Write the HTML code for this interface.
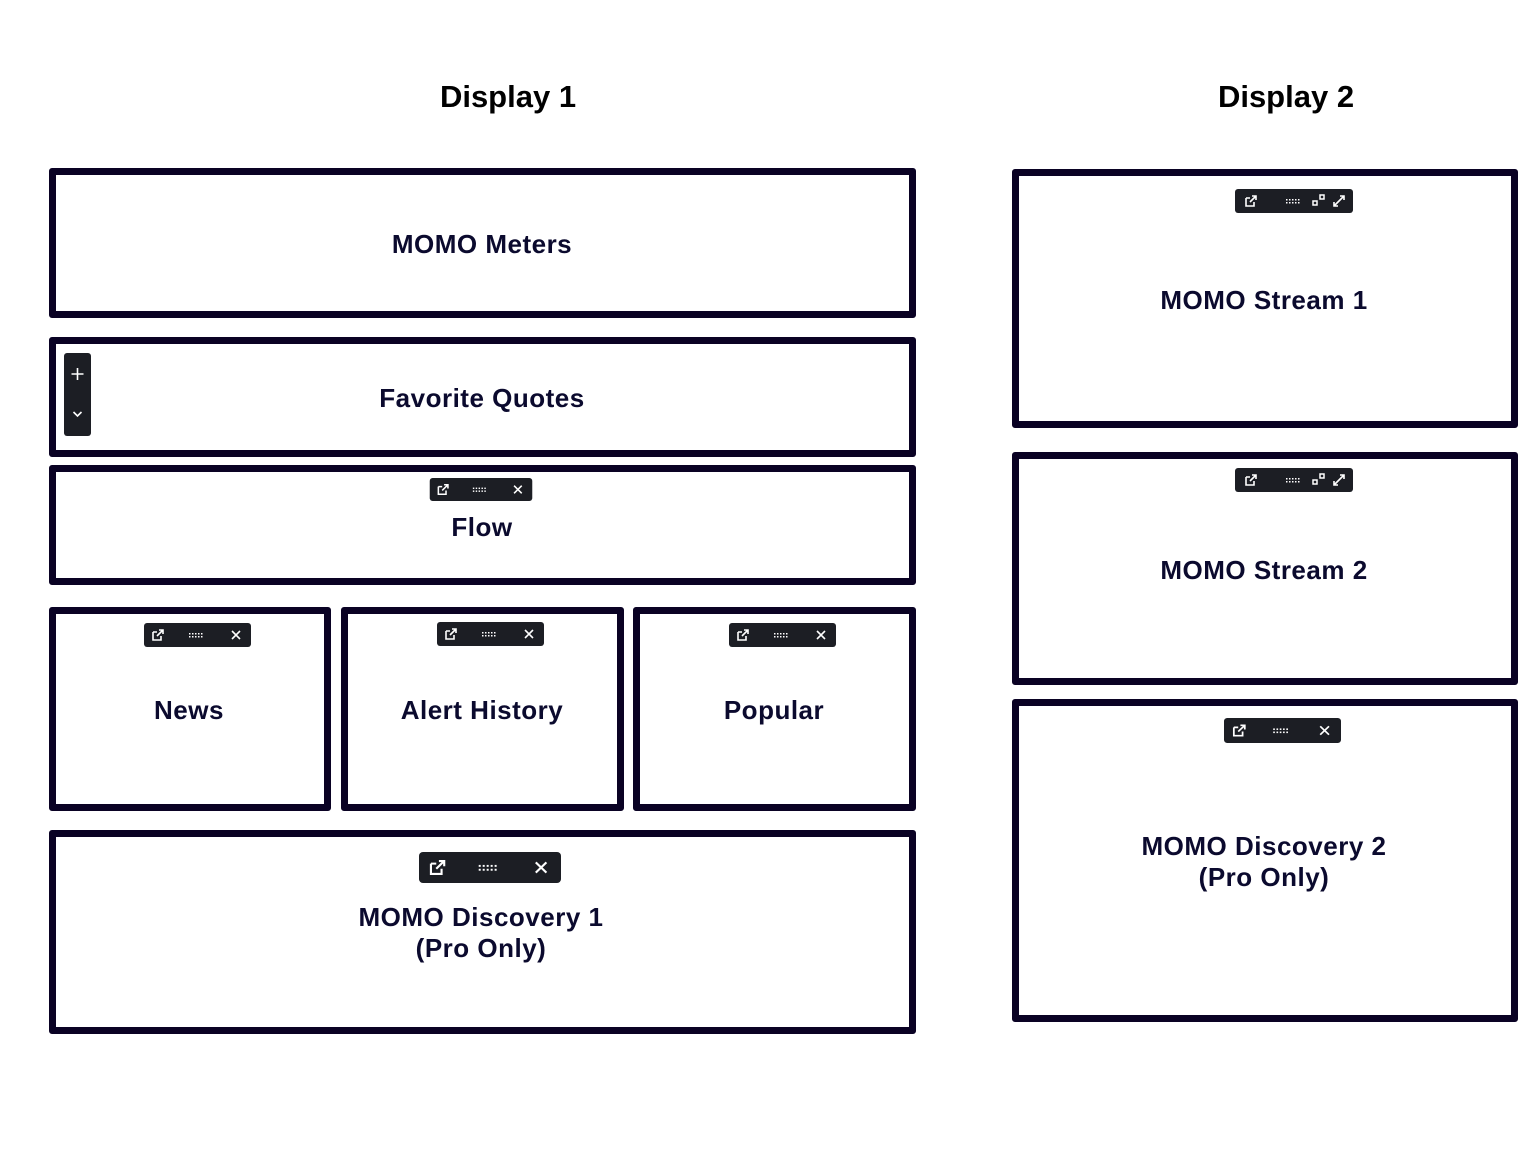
<!DOCTYPE html>
<html><head><meta charset="utf-8"><style>
html,body{margin:0;padding:0;background:#fff;}
body{width:1536px;height:1152px;position:relative;overflow:hidden;font-family:"Liberation Sans",sans-serif;}
.b{position:absolute;box-sizing:border-box;border:7px solid #0a0224;border-radius:3px;background:#fff;}
.t{position:absolute;width:600px;text-align:center;font-weight:bold;font-size:26px;letter-spacing:0.5px;line-height:31px;color:#0b0a2e;}
.h{position:absolute;width:400px;text-align:center;font-weight:bold;font-size:31px;color:#000;line-height:36px;}
svg.tb{position:absolute;}
</style></head><body>
<div class="h" style="left:308px;top:79px">Display 1</div>
<div class="h" style="left:1086px;top:79px">Display 2</div>

<div class="b" style="left:49px;top:168px;width:867px;height:150px"></div>
<div class="b" style="left:49px;top:337px;width:867px;height:120px"></div>
<div class="b" style="left:49px;top:465px;width:867px;height:120px"></div>
<div class="b" style="left:49px;top:607px;width:282px;height:204px"></div>
<div class="b" style="left:341px;top:607px;width:283px;height:204px"></div>
<div class="b" style="left:633px;top:607px;width:283px;height:204px"></div>
<div class="b" style="left:49px;top:830px;width:867px;height:204px"></div>
<div class="b" style="left:1012px;top:169px;width:506px;height:259px"></div>
<div class="b" style="left:1012px;top:452px;width:506px;height:233px"></div>
<div class="b" style="left:1012px;top:699px;width:506px;height:323px"></div>

<div class="t" style="left:182px;top:229px">MOMO Meters</div>
<div class="t" style="left:182px;top:383px">Favorite Quotes</div>
<div class="t" style="left:182px;top:512px">Flow</div>
<div class="t" style="left:-111px;top:695px">News</div>
<div class="t" style="left:182px;top:695px">Alert History</div>
<div class="t" style="left:474px;top:695px">Popular</div>
<div class="t" style="left:181px;top:902px">MOMO Discovery 1<br>(Pro Only)</div>
<div class="t" style="left:964px;top:285px">MOMO Stream 1</div>
<div class="t" style="left:964px;top:555px">MOMO Stream 2</div>
<div class="t" style="left:964px;top:831px">MOMO Discovery 2<br>(Pro Only)</div>

<svg class="tb" style="left:64px;top:353px" width="27" height="83" viewBox="0 0 27 83">
<rect width="27" height="83" rx="3" fill="#1c1e24"/>
<path d="M13.5 15v12M7.5 21h12" stroke="#fff" stroke-width="1.6"/>
<path d="M9.5 59l4 4 4-4" stroke="#fff" stroke-width="1.6" fill="none"/>
</svg>

<svg width="0" height="0" style="position:absolute">
<defs>
<g id="ext"><path d="M-5 -3h4M-5 -3v8h8v-4" stroke="#fff" stroke-width="1.6" fill="none"/><path d="M-1 1l6-6M1 -5h4v4" stroke="#fff" stroke-width="1.6" fill="none"/></g>
<g id="dots" fill="#fff"><rect x="-7" y="-2" width="1.5" height="1.5"/><rect x="-4" y="-2" width="1.5" height="1.5"/><rect x="-1" y="-2" width="1.5" height="1.5"/><rect x="2" y="-2" width="1.5" height="1.5"/><rect x="5" y="-2" width="1.5" height="1.5"/><rect x="-7" y="1" width="1.5" height="1.5"/><rect x="-4" y="1" width="1.5" height="1.5"/><rect x="-1" y="1" width="1.5" height="1.5"/><rect x="2" y="1" width="1.5" height="1.5"/><rect x="5" y="1" width="1.5" height="1.5"/></g>
<g id="x"><path d="M-4 -4l8 8M4 -4l-8 8" stroke="#fff" stroke-width="1.6"/></g>
<g id="sq" fill="none" stroke="#fff" stroke-width="1.5"><rect x="-6" y="0" width="4" height="4"/><rect x="1" y="-6" width="4" height="4"/></g>
<g id="exp" stroke="#fff" stroke-width="1.6" fill="none"><path d="M-5 5l10-10M1 -5h4v4M-5 1v4h4"/></g>
<g id="tb3"><rect width="107" height="24" rx="3" fill="#1c1e24"/><use href="#ext" x="14" y="12"/><use href="#dots" x="52" y="12"/><use href="#x" x="92" y="12"/></g>
<g id="tb4"><rect width="118" height="24" rx="3" fill="#1c1e24"/><use href="#ext" x="16" y="12"/><use href="#dots" x="58" y="12"/><use href="#sq" x="84" y="12"/><use href="#exp" x="104" y="12"/></g>
</defs></svg>

<svg class="tb" style="left:429px;top:478px" width="104" height="23" viewBox="0 0 107 24"><use href="#tb3"/></svg>
<svg class="tb" style="left:144px;top:623px" width="107" height="24" viewBox="0 0 107 24"><use href="#tb3"/></svg>
<svg class="tb" style="left:437px;top:622px" width="107" height="24" viewBox="0 0 107 24"><use href="#tb3"/></svg>
<svg class="tb" style="left:729px;top:623px" width="107" height="24" viewBox="0 0 107 24"><use href="#tb3"/></svg>
<svg class="tb" style="left:419px;top:852px" width="142" height="31" viewBox="0 0 107 24" preserveAspectRatio="none"><use href="#tb3"/></svg>
<svg class="tb" style="left:1224px;top:718px" width="117" height="25" viewBox="0 0 107 24" preserveAspectRatio="none"><use href="#tb3"/></svg>
<svg class="tb" style="left:1235px;top:189px" width="118" height="24" viewBox="0 0 118 24"><use href="#tb4"/></svg>
<svg class="tb" style="left:1235px;top:468px" width="118" height="24" viewBox="0 0 118 24"><use href="#tb4"/></svg>
</body></html>
